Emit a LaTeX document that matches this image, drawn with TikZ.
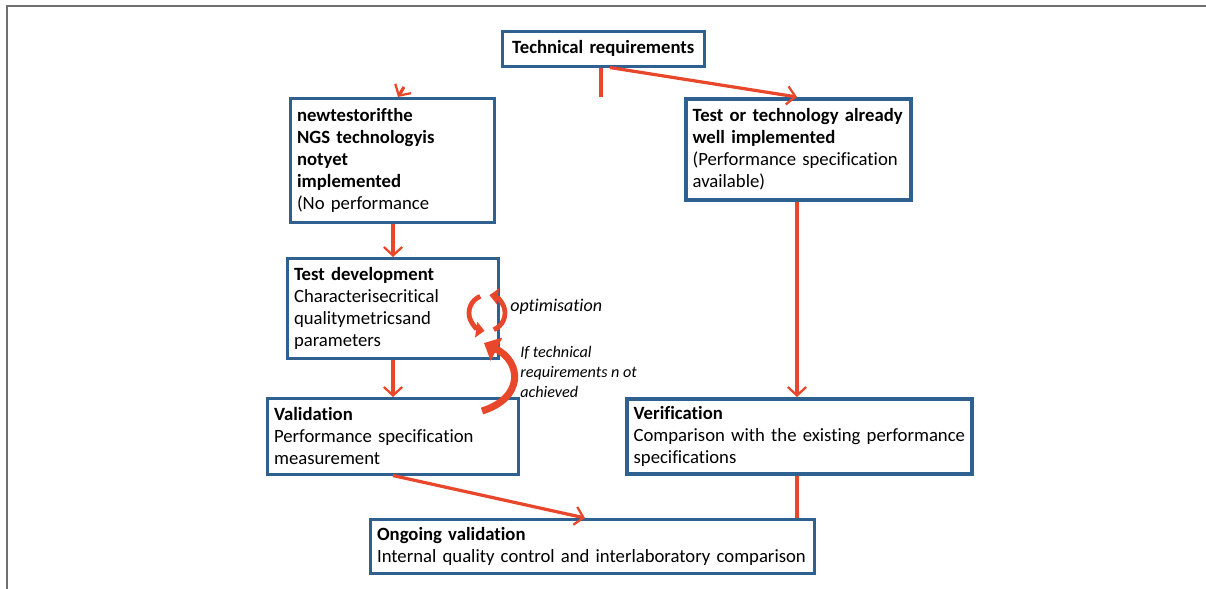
\documentclass[tikz,border=0pt]{standalone}
\usepackage{fontspec}
\setmainfont{Carlito}[RawFeature={-liga;-clig;-calt;-dlig}]
\usetikzlibrary{arrows.meta,calc}
\definecolor{boxblue}{HTML}{2E6190}
\definecolor{arrred}{HTML}{E8472B}
\definecolor{framegray}{HTML}{707070}
\tikzset{
  box/.style={draw=boxblue, line width=1.8pt, anchor=north west, align=left,
    inner xsep=0.17cm, inner ysep=0pt, fill=white,
    font=\fontsize{13.3pt}{15.6pt}\selectfont},
  thickbox/.style={box, line width=2.6pt},
  conn/.style={draw=arrred, line width=2.3pt},
  arr/.style={conn, -{Straight Barb[length=6pt,width=13pt,line width=1.6pt]}},
  lbl/.style={font=\fontsize{11.5pt}{14.2pt}\selectfont\itshape, align=left, inner sep=0pt}
}
\begin{document}
\begin{tikzpicture}[x=0.025cm,y=-0.025cm]
\useasboundingbox (0,0) rectangle (1206,589);
% frame
\coordinate (fa) at (7,589);
\coordinate (fb) at (7,6);
\coordinate (fc) at (1206,6);
\draw[framegray, line width=1.4pt] (fa) -- (fb) -- (fc);

% boxes
\node[box, minimum width=5.05cm, minimum height=0.875cm, text width=4.71cm, align=center] (tr) at (501,30) {\textbf{Technical requirements}};
\node[box, minimum height=3.1cm, text width=4.76cm] (nt) at (289,97) {\textbf{newtestorifthe}\\\textbf{NGS technologyis}\\\textbf{notyet}\\\textbf{implemented}\\(No performance};
\node[thickbox, minimum height=2.525cm, text width=5.285cm] (tt) at (684,97) {\textbf{Test or technology already}\\\textbf{well implemented}\\(Performance specification\\available)};
\node[box, minimum height=2.5cm, text width=4.935cm] (td) at (286,257) {\textbf{Test development}\\Characterisecritical\\qualitymetricsand\\parameters};
\node[box, minimum height=1.9cm, text width=5.935cm] (va) at (266,397) {\textbf{Validation}\\Performance specification\\measurement};
\node[thickbox, minimum height=1.875cm, text width=8.285cm] (ve) at (625,397) {\textbf{Verification}\\Comparison with the existing performance\\specifications};
\node[box, minimum height=1.35cm, text width=10.76cm] (og) at (369,518) {\textbf{Ongoing validation}\\Internal quality control and interlaboratory comparison};

% connector coordinates
\coordinate (x601) at (601,0);
\coordinate (x610) at (610,0);
\coordinate (x797) at (797,0);
\coordinate (x393) at (393,0);
\coordinate (x398) at (398,0);
\coordinate (x585) at (585,0);
\coordinate (f1) at (404,87);

\draw[conn] (tr.south -| x601) -- (nt.north -| x601);
\draw[arr] (tr.south -| x610) -- (tt.north -| x797);
\draw[arr] (f1) -- (nt.north -| x398);
\draw[arr] (nt.south -| x393) -- (td.north -| x393);
\draw[arr] (tt.south -| x797) -- (ve.north -| x797);
\draw[arr] (td.south -| x393) -- (va.north -| x393);
\draw[arr] (va.south -| x393) -- (og.north -| x585);
\draw[conn] (ve.south -| x797) -- (og.north -| x797);

% optimisation loop
\coordinate (oc) at (487,313);
\draw[arrred, line width=3.4pt, -{Triangle[length=6pt,width=11pt]}] ($(oc)+(112:0.45cm)$) arc[start angle=112, end angle=262, radius=0.45cm];
\draw[arrred, line width=3.4pt, -{Triangle[length=6pt,width=11pt]}] ($(oc)+(-68:0.45cm)$) arc[start angle=-68, end angle=82, radius=0.45cm];
\node[lbl, anchor=west, font=\fontsize{12.8pt}{15pt}\selectfont\itshape] (opt) at (510,307) {optimisation};

% feedback arrow
\coordinate (fbs) at (482,411);
\coordinate (fbe) at (484,343);
\draw[arrred, line width=5pt, -{Triangle[length=10pt,width=18pt]}] (fbs) .. controls (524,398) and (522,362) .. (fbe);
\node[lbl, anchor=north west] (nota) at (520,346) {If technical\\requirements n ot\\achieved};
\end{tikzpicture}
\end{document}
